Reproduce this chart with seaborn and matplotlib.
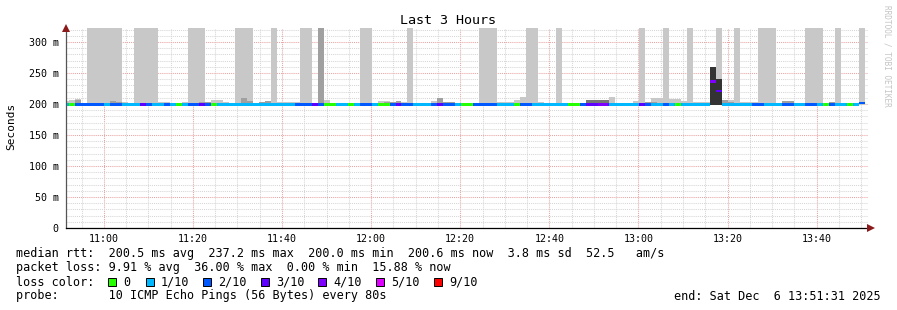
import numpy as np
import matplotlib
matplotlib.use("Agg")
import matplotlib.pyplot as plt
from matplotlib.patches import Rectangle
import seaborn as sns

# ---------------- data ----------------
title = "Last 3 Hours"
start_min = 50.81          # first 80 s bin starts 10:50:49 (minutes after 10:00)
step_min = 80 / 60.0       # probe interval
x_lo, x_hi = 51.517, 231.517   # 10:51:31 .. 13:51:31

xtick_pos = [60, 80, 100, 120, 140, 160, 180, 200, 220]
xtick_labels = ["11:00", "11:20", "11:40", "12:00", "12:20", "12:40", "13:00", "13:20", "13:40"]
ytick_pos = [0, 50, 100, 150, 200, 250, 300]
ytick_labels = ["0", "50 m", "100 m", "150 m", "200 m", "250 m", "300 m"]

# loss (tenths) per 80 s bin
loss = [1, 0, 2, 2, 2, 2, 2, 1, 2, 2,
        1, 1, 1, 3, 2, 1, 1, 2, 1, 0,
        1, 2, 2, 3, 2, 0, 1, 1, 1, 1,
        1, 1, 1, 1, 1, 1, 1, 1, 1, 2,
        2, 2, 3, 2, 0, 0, 1, 1, 0, 1,
        2, 2, 1, 0, 0, 2, 3, 2, 2, 1,
        1, 1, 2, 3, 2, 2, 1, 0, 0, 2,
        2, 2, 2, 1, 1, 1, 0, 2, 2, 1,
        1, 1, 1, 1, 1, 0, 0, 2, 3, 3,
        4, 4, 1, 1, 1, 1, 1, 3, 2, 1,
        1, 2, 1, 0, 1, 1, 1, 1, 1, 4,
        3, 1, 1, 1, 1, 1, 2, 2, 1, 1,
        1, 2, 2, 1, 1, 2, 2, 1, 0, 2,
        1, 1, 0, 1, 2, None]

# median rtt (ms)
median_ms = [200, 200, 200, 200, 200, 200, 200, 200, 200, 200,
             200, 200, 200, 200, 200, 200, 200, 200, 200, 200,
             200, 200, 200, 200, 200, 200, 200, 200, 200, 200,
             200, 200, 200, 200, 200, 200, 200, 200, 200, 200,
             200, 200, 200, 200, 200, 200, 200, 200, 200, 200,
             200, 200, 200, 200, 200, 200, 200, 200, 200, 200,
             200, 200, 200, 200, 200, 200, 200, 200, 200, 200,
             200, 200, 200, 200, 200, 200, 200, 200, 200, 200,
             200, 200, 200, 200, 200, 200, 200, 200, 200, 200,
             200, 200, 200, 200, 200, 200, 200, 200, 200, 200,
             200, 200, 200, 200, 200, 200, 200, 200, 200, 237.2,
             222, 200, 200, 200, 200, 200, 200, 200, 200, 200,
             200, 200, 200, 200, 200, 200, 200, 200, 200, 200,
             200, 200, 200, 200, 202, None]

# smoke: light layer top (ms), 400 = off-scale ping
smoke_light = [205, 206, 208, 202, 400, 400, 400, 400, 400, 400,
               203, 202, 400, 400, 400, 400, 203, 203, 202, 202,
               203, 400, 400, 400, 203, 207, 207, 203, 202, 400,
               400, 400, 202, 204, 205, 400, 203, 203, 203, 203,
               400, 400, 202, 400, 206, 202, 202, 202, 202, 202,
               400, 400, 202, 205, 205, 203, 205, 203, 400, 202,
               202, 202, 205, 210, 203, 203, 202, 202, 202, 202,
               400, 400, 400, 203, 203, 203, 207, 211, 400, 400,
               203, 202, 202, 400, 202, 202, 202, 202, 207, 207,
               207, 207, 211, 202, 202, 202, 205, 400, 203, 209,
               209, 400, 208, 208, 205, 400, 203, 203, 203, 260,
               400, 206, 206, 400, 203, 203, 203, 400, 400, 400,
               202, 205, 205, 202, 202, 400, 400, 400, 202, 203,
               400, 202, 202, 202, 400, None]

# smoke: middle-grey layer top (ms)
smoke_mid = [None, None, 206, None, None, None, None, None, 205, 203,
             None, None, None, 202, 202, None, None, None, None, None,
             None, None, None, 203, 203, None, None, None, None, None,
             210, 205, None, 204, 205, None, None, None, None, None,
             None, None, None, 400, None, None, None, None, None, None,
             None, None, None, None, 203, 203, 205, None, None, None,
             None, None, None, 210, 203, 203, None, None, None, None,
             None, None, None, None, None, None, None, None, None, None,
             None, None, None, None, None, None, None, None, None, None,
             None, None, None, None, None, None, None, None, 203, 203,
             None, None, None, None, None, None, None, None, None, None,
             None, 206, 203, None, None, None, None, None, None, None,
             None, 205, 205, None, None, None, None, None, None, 203,
             None, None, None, None, None, None]

# smoke: darker-grey layer top (ms)
smoke_dim = [None] * 88 + [206, 206, 206, 206] + [None] * 44

# smoke: dense (dark) layer top (ms)
smoke_dark = [None] * 109 + [260, 240] + [None] * 25

loss_colors = {0: "#26ff00", 1: "#00b8ff", 2: "#0059ff", 3: "#5e00ff",
               4: "#7e00ff", 5: "#dd00ff", 9: "#ff0000"}
legend_items = [("0", 0), ("1/10", 1), ("2/10", 2), ("3/10", 3),
                ("4/10", 4), ("5/10", 5), ("9/10", 9)]

# ---------------- figure ----------------
sns.set_theme(style="white")
plt.rcParams["font.family"] = ["DejaVu Sans Mono", "DejaVu Sans"]

W, H = 897, 310
fig = plt.figure(figsize=(W / 100, H / 100), dpi=100)
fig.patch.set_facecolor("white")
ax = fig.add_axes([66 / W, (H - 228) / H, 802 / W, 200 / H])
ax.set_facecolor("white")

n = len(loss)
t = start_min + step_min * np.arange(n)
ymax = 322.6


def arr(v):
    return np.array([np.nan if a is None else a for a in v], dtype=float)


base = 198.0
for vals, col in [(smoke_light, "#c8c8c8"), (smoke_mid, "#a0a0a0"),
                  (smoke_dim, "#767676"), (smoke_dark, "#333333")]:
    top = arr(vals)
    m = ~np.isnan(top)
    ax.bar(t[m], np.minimum(top[m], ymax + 5) - base, bottom=base, width=step_min,
           align="edge", color=col, linewidth=0, zorder=2)

med = arr(median_ms)
m = ~np.isnan(med)
cols = [loss_colors[int(l)] for l, ok in zip(loss, m) if ok]
ax.bar(t[m], 4.0, bottom=med[m] - 2.6, width=step_min, align="edge",
       color=cols, linewidth=0, zorder=3)

ax.set_xlim(x_lo, x_hi)
ax.set_ylim(0, ymax)
ax.set_xticks(xtick_pos)
ax.set_xticklabels(xtick_labels)
ax.set_xticks(np.arange(55, 231, 5), minor=True)
ax.set_yticks(ytick_pos)
ax.set_yticklabels(ytick_labels)
ax.set_yticks(np.arange(10, 321, 10), minor=True)

dot = (0, (1, 1))
ax.grid(which="minor", color="#d6d6d6", linestyle=dot, linewidth=0.75, zorder=0)
ax.grid(which="major", color="#eba3a3", linestyle=dot, linewidth=0.75, zorder=0)
ax.set_axisbelow(True)

for s in ["top", "right"]:
    ax.spines[s].set_visible(False)
ax.spines["bottom"].set_color("black")
ax.spines["bottom"].set_linewidth(0.9)
ax.spines["left"].set_color("#555555")
ax.spines["left"].set_linewidth(0.9)
ax.spines["bottom"].set_zorder(5)
ax.spines["left"].set_zorder(5)

ax.tick_params(axis="y", which="major", length=2, width=0.7, pad=3.2,
               labelsize=7.2, colors="black", direction="out")
ax.tick_params(axis="x", which="major", length=0, pad=4.5, labelsize=7.2, colors="black")
ax.tick_params(which="minor", length=0)

# axis arrows
ax.plot([0], [1.0], marker="^", markersize=5.5, color="#8b1a1a", transform=ax.transAxes,
        clip_on=False, zorder=6, markeredgewidth=0)
ax.plot([1.004], [0], marker=">", markersize=5.5, color="#8b1a1a", transform=ax.transAxes,
        clip_on=False, zorder=6, markeredgewidth=0)

def fx(x):
    return x / W

def fy(y):
    return 1 - y / H

fig.text(fx(448), fy(20), title, ha="center", va="center", fontsize=9.6, color="black")
fig.text(fx(11), fy(126), "Seconds", rotation=90, ha="center", va="center", fontsize=8, color="black")
fig.text(fx(887), fy(5), "RRDTOOL / TOBI OETIKER", rotation=270, ha="center", va="top",
         fontsize=5.6, color="#c4c4c4")

fs = 8.45
fig.text(fx(16), fy(254), "median rtt:  200.5 ms avg  237.2 ms max  200.0 ms min  200.6 ms now  3.8 ms sd  52.5   am/s",
         ha="left", va="center", fontsize=fs, color="black")
fig.text(fx(16), fy(268), "packet loss: 9.91 % avg  36.00 % max  0.00 % min  15.88 % now",
         ha="left", va="center", fontsize=fs, color="black")
fig.text(fx(16), fy(282), "loss color:", ha="left", va="center", fontsize=fs, color="black")
box_x = [108, 146, 203, 261, 318, 376, 434]
for (lab, key), bx in zip(legend_items, box_x):
    fig.add_artist(Rectangle((fx(bx), fy(286)), 8 / W, 8 / H, transform=fig.transFigure,
                             facecolor=loss_colors[key], edgecolor="black", linewidth=0.7))
    fig.text(fx(bx + 15), fy(282), lab, ha="left", va="center", fontsize=fs, color="black")
fig.text(fx(16), fy(296), "probe:       10 ICMP Echo Pings (56 Bytes) every 80s",
         ha="left", va="center", fontsize=fs, color="black")
fig.text(fx(881), fy(296), "end: Sat Dec  6 13:51:31 2025", ha="right", va="center",
         fontsize=fs, color="black")

fig.savefig("out.png", dpi=100, facecolor="white")
